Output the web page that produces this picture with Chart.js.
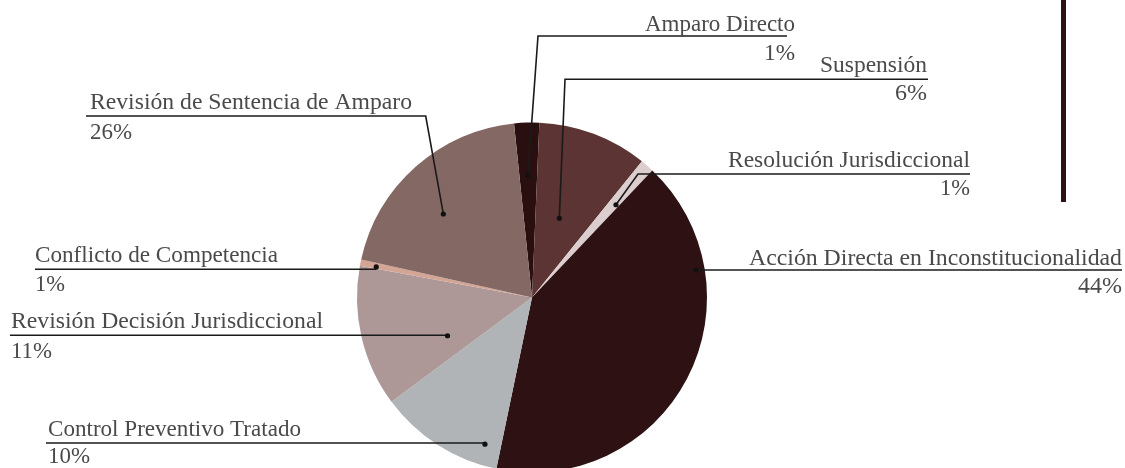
<!DOCTYPE html>
<html>
<head>
<meta charset="utf-8">
<script src="https://cdn.jsdelivr.net/npm/chart.js@4/dist/chart.umd.min.js"></script>
<style>
html,body{margin:0;padding:0;background:#fff;overflow:hidden;}
#wrap{width:1125px;height:468px;overflow:hidden;position:relative;}
canvas{display:block;}
</style>
</head>
<body>
<div id="wrap"><canvas id="c" width="1125" height="500"></canvas></div>
<script>
// ---- data ----
const categories = [
  "Amparo Directo",
  "Suspensión",
  "Resolución Jurisdiccional",
  "Acción Directa en Inconstitucionalidad",
  "Control Preventivo Tratado",
  "Revisión Decisión Jurisdiccional",
  "Conflicto de Competencia",
  "Revisión de Sentencia de Amparo"
];
// slice sizes as drawn in the picture (share of the circle, %)
const sliceValues = [2.31, 10.14, 1.25, 41.21, 11.57, 13.08, 0.56, 19.89];
// percentages printed in the labels
const percentLabels = ["1%", "6%", "1%", "44%", "10%", "11%", "1%", "26%"];
const sliceColors = ["#2a0f10", "#5c3434", "#dccdce", "#2e1213", "#b0b4b6", "#ad9797", "#d4a595", "#846864"];

// ---- label layout (annotation positions) ----
const labelLayout = [
  {align:"right", x:795,  ty:31,    py:60,    ly:36,    lx0:787,  elbow:[538,36],   t:0.48, f:0.70, tw:150, pw:31},
  {align:"right", x:927,  ty:71.5,  py:99.5,  ly:79.3,  lx0:928,  elbow:[565,79.3], t:0.455,f:0.479,tw:107, pw:32},
  {align:"right", x:970,  ty:166.7, py:195,   ly:174,   lx0:970,  elbow:[638,174],  t:0.72, f:0.715,tw:242, pw:30},
  {align:"right", x:1122, ty:265,   py:293,   ly:270,   lx0:1122, elbow:null,       t:0.25, f:0.95, tw:373, pw:44},
  {align:"left",  x:48,   ty:435.7, py:463.3, ly:443,   lx0:46,   elbow:null,       t:0.145,f:0.88, tw:253, pw:42},
  {align:"left",  x:11,   ty:327.7, py:357.7, ly:335.3, lx0:10,   elbow:null,       t:0.26, f:0.53, tw:312, pw:41},
  {align:"left",  x:35,   ty:262.3, py:291,   ly:269.3, lx0:35,   elbow:null,       t:0.3,  f:0.907,tw:243, pw:30},
  {align:"left",  x:90,   ty:109.3, py:139,   ly:116,   lx0:86,   elbow:[425.7,116],t:0.43, f:0.696,tw:322, pw:42}
];

const leaderPlugin = {
  id: "leaders",
  afterDraw(chart) {
    const ctx = chart.ctx;
    const meta = chart.getDatasetMeta(0);
    ctx.save();
    // decorative vertical bar
    ctx.fillStyle = "#2e1213";
    ctx.fillRect(1061, 0, 5, 202);

    meta.data.forEach((arc, i) => {
      const L = labelLayout[i];
      const a = arc.startAngle + L.t * (arc.endAngle - arc.startAngle);
      const r = arc.outerRadius * L.f;
      const dx = arc.x + r * Math.cos(a);
      const dy = arc.y + r * Math.sin(a);

      ctx.strokeStyle = "#1a1a1a";
      ctx.lineWidth = 1.6;
      ctx.beginPath();
      if (L.elbow) {
        ctx.moveTo(L.lx0, L.ly);
        ctx.lineTo(L.elbow[0], L.elbow[1]);
        ctx.lineTo(dx, dy);
      } else {
        ctx.moveTo(L.lx0, L.ly);
        ctx.lineTo(dx, L.ly);
      }
      ctx.stroke();

      ctx.fillStyle = "#111";
      ctx.beginPath();
      ctx.arc(dx, dy, 2.6, 0, Math.PI * 2);
      ctx.fill();

      ctx.fillStyle = "#4a4a4a";
      ctx.font = "24px 'Liberation Serif', serif";
      ctx.textAlign = L.align;
      ctx.textBaseline = "alphabetic";
      ctx.fillText(categories[i], L.x, L.ty, L.tw);
      ctx.fillText(percentLabels[i], L.x, L.py, L.pw);
    });
    ctx.restore();
  }
};

new Chart(document.getElementById("c"), {
  type: "pie",
  data: {
    labels: categories,
    datasets: [{
      data: sliceValues,
      backgroundColor: sliceColors,
      borderWidth: 0,
      hoverOffset: 0
    }]
  },
  options: {
    responsive: false,
    animation: false,
    rotation: -5.9,
    layout: {padding: {top: 122.5, bottom: 27.5, left: 357, right: 418}},
    plugins: {legend: {display: false}, tooltip: {enabled: false}}
  },
  plugins: [leaderPlugin]
});
</script>
</body>
</html>
